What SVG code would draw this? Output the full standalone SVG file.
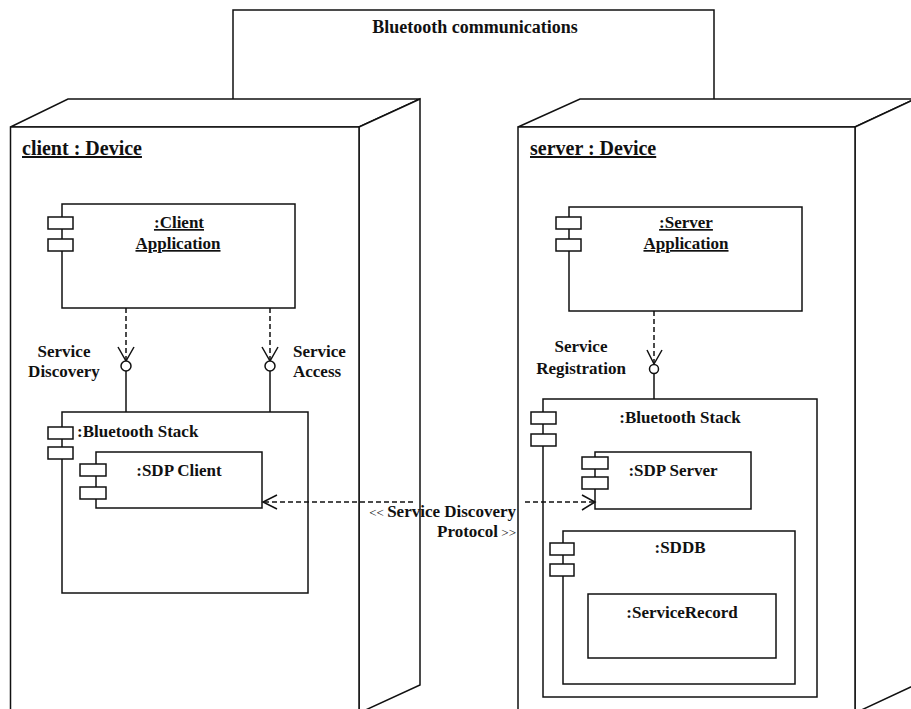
<svg xmlns="http://www.w3.org/2000/svg" width="911" height="709" viewBox="0 0 911 709">
<style>
.s{fill:none;stroke:#111;stroke-width:1.5}
.w{fill:#fff;stroke:#111;stroke-width:1.5}
.d{fill:none;stroke:#111;stroke-width:1.5;stroke-dasharray:5 3}
text{font-family:"Liberation Serif","Times New Roman",serif;font-weight:bold;font-size:17px;fill:#111}
.m{text-anchor:middle}
.e{text-anchor:end}
.u{text-decoration:underline}
.big{font-size:20px}
.t18{font-size:18px}
.sm{font-size:13px;font-weight:normal}
</style>
<rect width="911" height="709" fill="#fff"/>
<g id="bluetooth-communications">
<polyline class="s" points="233,99 233,10 714,10 714,99"/>
<text x="475" y="33" class="m t18">Bluetooth communications</text>
</g>
<g id="client-device">
<polygon class="w" points="10.5,127 68,99 420,99 359,127"/>
<polygon class="w" points="359,127 420,99 420,685 359,713"/>
<rect class="w" x="10.5" y="127" width="348.5" height="600"/>
<text x="22" y="155" class="u big">client : Device</text>
</g>
<g id="server-device">
<polygon class="w" points="518,127 580,99 915,99 855,127"/>
<polygon class="w" points="855,127 915,99 915,685 855,713"/>
<rect class="w" x="518" y="127" width="337" height="600"/>
<text x="530" y="155" class="u big">server : Device</text>
</g>
<g id="client-application">
<rect class="w" x="62" y="204" width="233" height="104"/>
<rect class="w" x="48" y="217" width="25" height="12"/>
<rect class="w" x="48" y="239" width="25" height="12"/>
<text x="179" y="228" class="m u">:Client</text>
<text x="178" y="249" class="m u">Application</text>
</g>
<g id="client-bluetooth-stack">
<rect class="w" x="62" y="412" width="246" height="181"/>
<rect class="w" x="48" y="427" width="25" height="12"/>
<rect class="w" x="48" y="447" width="25" height="12"/>
<text x="77" y="437">:Bluetooth Stack</text>
</g>
<g id="sdp-client">
<rect class="w" x="96" y="452" width="166" height="56"/>
<rect class="w" x="80" y="464" width="26" height="12"/>
<rect class="w" x="80" y="487" width="26" height="12"/>
<text x="179" y="476" class="m">:SDP Client</text>
</g>
<g id="server-application">
<rect class="w" x="569" y="207" width="233" height="104"/>
<rect class="w" x="556" y="217" width="25" height="12"/>
<rect class="w" x="556" y="239" width="25" height="12"/>
<text x="686" y="228" class="m u">:Server</text>
<text x="686" y="249" class="m u">Application</text>
</g>
<g id="server-bluetooth-stack">
<rect class="w" x="543" y="399" width="274" height="298"/>
<rect class="w" x="531" y="412" width="25" height="12"/>
<rect class="w" x="531" y="434" width="25" height="12"/>
<text x="680" y="423" class="m">:Bluetooth Stack</text>
</g>
<g id="sdp-server">
<rect class="w" x="595" y="452" width="156" height="57"/>
<rect class="w" x="582" y="457" width="26" height="12"/>
<rect class="w" x="582" y="477" width="26" height="12"/>
<text x="673" y="476" class="m">:SDP Server</text>
</g>
<g id="sddb">
<rect class="w" x="563" y="531" width="232" height="153"/>
<rect class="w" x="550" y="543" width="24" height="12"/>
<rect class="w" x="550" y="564" width="24" height="12"/>
<text x="680" y="553" class="m">:SDDB</text>
</g>
<g id="service-record">
<rect class="w" x="588" y="594" width="188" height="64"/>
<text x="682" y="618" class="m">:ServiceRecord</text>
</g>
<g id="connectors">
<line class="d" x1="126" y1="308" x2="126" y2="360"/>
<polyline class="s" points="118,347 126,361 134,347"/>
<circle class="w" cx="126" cy="366" r="5"/>
<line class="s" x1="126" y1="371" x2="126" y2="412"/>
<text x="64" y="357" class="m">Service</text>
<text x="64" y="377" class="m">Discovery</text>
<line class="d" x1="270" y1="308" x2="270" y2="360"/>
<polyline class="s" points="262,347 270,361 278,347"/>
<circle class="w" cx="270" cy="366" r="5"/>
<line class="s" x1="270" y1="371" x2="270" y2="412"/>
<text x="293" y="357">Service</text>
<text x="293" y="377">Access</text>
<line class="d" x1="654" y1="311" x2="654" y2="363"/>
<polyline class="s" points="647,350 654,364 662,350"/>
<circle class="w" cx="654" cy="369" r="4.5"/>
<line class="s" x1="654" y1="374" x2="654" y2="399"/>
<text x="581" y="352" class="m">Service</text>
<text x="581" y="374" class="m">Registration</text>
<line class="d" x1="264" y1="502" x2="413" y2="502"/>
<line class="d" x1="525" y1="502" x2="594" y2="502"/>
<polyline class="s" points="277,495 263,502 277,509"/>
<polyline class="s" points="582,495 595,502 582,510"/>
<text x="516" y="517" class="e"><tspan class="sm">&lt;&lt; </tspan>Service Discovery</text>
<text x="516" y="537" class="e">Protocol<tspan class="sm"> &gt;&gt;</tspan></text>
</g>
</svg>
